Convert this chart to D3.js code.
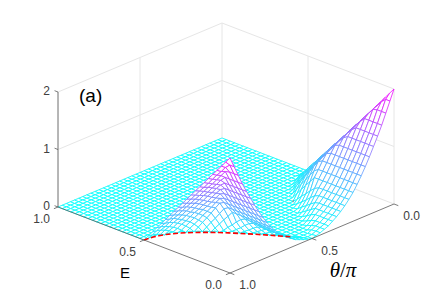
<!DOCTYPE html>
<html lang="en">
  <head>
    <meta charset="utf-8">
    <title>Surface (a)</title>
    <script src="https://d3js.org/d3.v7.js"></script>
    <style>
      html, body { margin: 0; padding: 0; background: #fff; }
      svg { display: block; }
    </style>
  </head>
  <body>
    <script>

  var w = 436;
  var h = 308;

  // mesh lines
  var thetaValues = [0,0.025,0.05,0.075,0.1,0.125,0.15,0.175,0.2,0.225,0.25,0.275,0.3,0.325,0.35,0.375,0.4,0.425,0.45,0.475,0.5,
    0.525,0.55,0.575,0.6,0.625,0.65,0.675,0.7,0.725,0.75,0.775,0.8,0.825,0.85,0.875,0.9,0.925,0.95,0.975,1];
  var eValues = [0,0.025,0.05,0.075,0.1,0.125,0.15,0.175,0.2,0.225,0.25,0.275,0.3,0.325,0.35,0.375,0.4,0.425,0.45,0.475,0.5,
    0.525,0.55,0.575,0.6,0.625,0.65,0.675,0.7,0.725,0.75,0.775,0.8,0.825,0.85,0.875,0.9,0.925,0.95,0.975,1];

  // surface height, one row per E from 0.0 to 0.475, one column per theta
  var zRows = [
    [2,1.82,1.64,1.46,1.3,1.15,1,.86,.73,.61,.5,.41,.33,.26,.2,.15,.1,.07,.04,.02,0,.02,.04,.07,.1,.15,.2,.26,.33,.41,.5,.61,.73,.86,1,1.15,1.3,1.46,1.64,1.82,2],
    [1.9,1.82,1.64,1.46,1.3,1.15,1,.86,.73,.61,.5,.41,.33,.26,.2,.15,.1,.07,.04,.01,0,.01,.04,.07,.1,.15,.2,.26,.33,.41,.5,.61,.73,.86,1,1.15,1.3,1.46,1.64,1.82,1.9],
    [1.8,1.75,1.64,1.46,1.3,1.15,1,.86,.73,.61,.5,.41,.33,.26,.2,.15,.1,.07,.03,0,0,0,.03,.07,.1,.15,.2,.26,.33,.41,.5,.61,.73,.86,1,1.15,1.3,1.46,1.64,1.75,1.8],
    [1.7,1.65,1.62,1.46,1.3,1.15,1,.86,.73,.61,.5,.41,.33,.26,.2,.15,.1,.05,0,0,0,0,0,.05,.1,.15,.2,.26,.33,.41,.5,.61,.73,.86,1,1.15,1.3,1.46,1.62,1.65,1.7],
    [1.6,1.56,1.52,1.46,1.3,1.15,1,.86,.73,.61,.5,.41,.33,.26,.2,.15,.08,.02,0,0,0,0,0,.02,.08,.15,.2,.26,.33,.41,.5,.61,.73,.86,1,1.15,1.3,1.46,1.52,1.56,1.6],
    [1.5,1.46,1.42,1.38,1.3,1.15,1,.86,.73,.61,.5,.41,.33,.26,.2,.12,.04,0,0,0,0,0,0,0,.04,.12,.2,.26,.33,.41,.5,.61,.73,.86,1,1.15,1.3,1.38,1.42,1.46,1.5],
    [1.4,1.36,1.32,1.28,1.24,1.15,1,.86,.73,.61,.5,.41,.33,.24,.15,.07,.01,0,0,0,0,0,0,0,.01,.07,.15,.24,.33,.41,.5,.61,.73,.86,1,1.15,1.24,1.28,1.32,1.36,1.4],
    [1.3,1.26,1.23,1.19,1.15,1.1,1,.86,.73,.61,.5,.41,.3,.19,.1,.03,0,0,0,0,0,0,0,0,0,.03,.1,.19,.3,.41,.5,.61,.73,.86,1,1.1,1.15,1.19,1.23,1.26,1.3],
    [1.2,1.17,1.13,1.09,1.05,1.01,.97,.86,.73,.61,.5,.37,.24,.13,.05,0,0,0,0,0,0,0,0,0,0,0,.05,.13,.24,.37,.5,.61,.73,.86,.97,1.01,1.05,1.09,1.13,1.17,1.2],
    [1.1,1.07,1.03,1,.96,.91,.87,.83,.73,.61,.5,.3,.17,.08,0,0,0,0,0,0,0,0,0,0,0,0,0,.08,.17,.3,.5,.61,.73,.83,.87,.91,.96,1,1.03,1.07,1.1],
    [1,.97,.94,.9,.86,.81,.77,.73,.69,.56,.4,.22,.11,.02,0,0,0,0,0,0,0,0,0,0,0,0,0,.02,.11,.22,.4,.56,.69,.73,.77,.81,.86,.9,.94,.97,1],
    [.9,.87,.84,.81,.77,.72,.67,.62,.58,.45,.31,.15,.05,0,0,0,0,0,0,0,0,0,0,0,0,0,0,0,.05,.15,.31,.45,.58,.62,.67,.72,.77,.81,.84,.87,.9],
    [.8,.77,.75,.71,.67,.62,.58,.52,.46,.34,.21,.07,0,0,0,0,0,0,0,0,0,0,0,0,0,0,0,0,0,.07,.21,.34,.46,.52,.58,.62,.67,.71,.75,.77,.8],
    [.7,.68,.65,.62,.57,.53,.48,.42,.35,.24,.11,0,0,0,0,0,0,0,0,0,0,0,0,0,0,0,0,0,0,0,.11,.24,.35,.42,.48,.53,.57,.62,.65,.68,.7],
    [.6,.58,.55,.52,.48,.43,.38,.31,.24,.13,.01,0,0,0,0,0,0,0,0,0,0,0,0,0,0,0,0,0,0,0,.01,.13,.24,.31,.38,.43,.48,.52,.55,.58,.6],
    [.5,.48,.46,.42,.38,.33,.28,.21,.13,.02,0,0,0,0,0,0,0,0,0,0,0,0,0,0,0,0,0,0,0,0,0,.02,.13,.21,.28,.33,.38,.42,.46,.48,.5],
    [.4,.38,.36,.33,.29,.24,.18,.11,.02,0,0,0,0,0,0,0,0,0,0,0,0,0,0,0,0,0,0,0,0,0,0,0,.02,.11,.18,.24,.29,.33,.36,.38,.4],
    [.3,.29,.26,.23,.19,.14,.08,.01,0,0,0,0,0,0,0,0,0,0,0,0,0,0,0,0,0,0,0,0,0,0,0,0,0,.01,.08,.14,.19,.23,.26,.29,.3],
    [.2,.19,.17,.14,.1,.05,0,0,0,0,0,0,0,0,0,0,0,0,0,0,0,0,0,0,0,0,0,0,0,0,0,0,0,0,0,.05,.1,.14,.17,.19,.2],
    [.1,.09,.07,.04,0,0,0,0,0,0,0,0,0,0,0,0,0,0,0,0,0,0,0,0,0,0,0,0,0,0,0,0,0,0,0,0,0,.04,.07,.09,.1]
  ];
  // every row from E = 0.5 up is flat
  var zFlatRow = [0,0,0,0,0,0,0,0,0,0,0,0,0,0,0,0,0,0,0,0,0,0,0,0,0,0,0,0,0,0,0,0,0,0,0,0,0,0,0,0,0];

  // red dashed zero line
  var redTheta = [0.55,0.575,0.6,0.625,0.65,0.675,0.7,0.725,0.75,0.775,0.8,0.825,0.85,0.875,0.9,0.925,0.95,0.975,1];
  var redE = [0.078,0.117,0.155,0.191,0.227,0.261,0.294,0.325,0.354,0.38,0.405,0.426,0.446,0.462,0.476,0.486,0.494,0.498,0.5];
  var redBackTheta = [0.265,0.28];
  var redBackE = [0.335,0.319];

  var zTicks = [0, 1, 2];
  var zTickLabels = ["0", "1", "2"];
  var eTicks = [1, 0.5, 0];
  var eTickLabels = ["1.0", "0.5", "0.0"];
  var thetaTicks = [0, 0.5, 1];
  var thetaTickLabels = ["0.0", "0.5", "1.0"];

  // oblique projection: each data axis moves the pixel along its own direction
  var origin = [394, 204];
  var thetaX = d3.scaleLinear().domain([0, 1]).range([0, -164]);
  var thetaY = d3.scaleLinear().domain([0, 1]).range([0, 69]);
  var eX = d3.scaleLinear().domain([0, 1]).range([0, -172]);
  var eY = d3.scaleLinear().domain([0, 1]).range([0, -66]);
  var zY = d3.scaleLinear().domain([0, 2]).range([0, -115]);

  var colors = d3.scaleLinear()
    .domain([0, 2])
    .range(["#00ffff", "#ff00ff"]);

  function project(t, e, z) {
    return [origin[0] + thetaX(t) + eX(e), origin[1] + thetaY(t) + eY(e) + zY(z)];
  }

  function zAt(i, j) {
    return j < zRows.length ? zRows[j][i] : zFlatRow[i];
  }

  var svg = d3.select("body")
    .append("svg")
    .attr("width", w)
    .attr("height", h);

  var line = d3.line();

  // walls
  var wallLines = [];
  zTicks.forEach(function (z) {
    wallLines.push([project(1, 1, z), project(0, 1, z), project(0, 0, z)]);
  });
  [0.5, 0].forEach(function (t) {
    wallLines.push([project(t, 1, 0), project(t, 1, 2)]);
  });
  [0.5, 0].forEach(function (e) {
    wallLines.push([project(0, e, 0), project(0, e, 2)]);
  });
  wallLines.push([project(1, 1, 0), project(1, 1, 2)]);

  svg.append("g")
    .selectAll("path")
    .data(wallLines)
    .enter()
    .append("path")
    .attr("d", line)
    .attr("fill", "none")
    .attr("stroke", "#e6e6e6")
    .attr("stroke-width", 1);

  // quads far to near so the white faces hide what is behind them
  var quads = [];
  for (var a = 0; a < thetaValues.length - 1; a++) {
    for (var b = eValues.length - 2; b >= 0; b--) {
      quads.push({
        pts: [
          project(thetaValues[a], eValues[b], zAt(a, b)),
          project(thetaValues[a + 1], eValues[b], zAt(a + 1, b)),
          project(thetaValues[a + 1], eValues[b + 1], zAt(a + 1, b + 1)),
          project(thetaValues[a], eValues[b + 1], zAt(a, b + 1))
        ],
        z: (zAt(a, b) + zAt(a + 1, b) + zAt(a + 1, b + 1) + zAt(a, b + 1)) / 4
      });
    }
  }

  svg.append("g")
    .selectAll("path")
    .data(quads)
    .enter()
    .append("path")
    .attr("d", d => line(d.pts) + "Z")
    .attr("fill", "#fff")
    .attr("stroke", d => colors(d.z))
    .attr("stroke-width", 0.8);

  // zero line
  svg.append("path")
    .attr("d", line(redTheta.map((t, i) => project(t, redE[i], 0))))
    .attr("fill", "none")
    .attr("stroke", "#f00")
    .attr("stroke-width", 1.6)
    .attr("stroke-dasharray", "5,2.5");

  svg.append("path")
    .attr("d", line(redBackTheta.map((t, i) => project(t, redBackE[i], 0))))
    .attr("fill", "none")
    .attr("stroke", "#f00")
    .attr("stroke-opacity", 0.5)
    .attr("stroke-width", 1);

  // axes
  var axisColor = "#5a5a5a";
  var axisLines = [
    [project(1, 1, 0), project(1, 1, 2)],
    [project(1, 1, 0), project(1, 0, 0)],
    [project(1, 0, 0), project(0, 0, 0)]
  ];
  zTicks.forEach(function (z) {
    axisLines.push([project(1, 1, z), project(1, 1.02, z)]);
  });
  eTicks.forEach(function (e) {
    axisLines.push([project(1, e, 0), project(1.025, e, 0)]);
  });
  thetaTicks.forEach(function (t) {
    axisLines.push([project(t, 0, 0), project(t, -0.025, 0)]);
  });

  svg.append("g")
    .selectAll("path")
    .data(axisLines)
    .enter()
    .append("path")
    .attr("d", line)
    .attr("fill", "none")
    .attr("stroke", axisColor)
    .attr("stroke-width", 0.8);

  // tick labels
  var labelFont = "'Liberation Sans', Arial, sans-serif";
  var textColor = "#404040";

  function tickLabels(values, labels, pos) {
    svg.append("g")
      .selectAll("text")
      .data(values)
      .enter()
      .append("text")
      .attr("x", d => pos(d)[0])
      .attr("y", d => pos(d)[1])
      .attr("text-anchor", "end")
      .attr("font-family", labelFont)
      .attr("font-size", 12)
      .attr("fill", textColor)
      .text((d, i) => labels[i]);
  }

  tickLabels(zTicks, zTickLabels, d => { var p = project(1, 1, d); return [p[0] - 8, p[1] + 3]; });
  tickLabels(eTicks, eTickLabels, d => { var p = project(1, d, 0); return [p[0] - 8, p[1] + 16]; });
  tickLabels(thetaTicks, thetaTickLabels, d => { var p = project(d, 0, 0); return [p[0] + 26, p[1] + 16]; });

  // axis names
  svg.append("text")
    .attr("x", 125)
    .attr("y", 278)
    .attr("text-anchor", "middle")
    .attr("font-family", labelFont)
    .attr("font-size", 15)
    .attr("fill", "#000")
    .text("E");

  var thetaLabel = svg.append("text")
    .attr("x", 343)
    .attr("y", 277)
    .attr("text-anchor", "middle")
    .attr("font-family", "'Liberation Serif', serif")
    .attr("font-size", 21)
    .attr("fill", "#000");
  thetaLabel.append("tspan").attr("font-style", "italic").text("θ");
  thetaLabel.append("tspan").text("/");
  thetaLabel.append("tspan").attr("font-style", "italic").text("π");

  svg.append("text")
    .attr("x", 79)
    .attr("y", 102)
    .attr("font-family", labelFont)
    .attr("font-size", 19)
    .attr("fill", "#000")
    .text("(a)");

    </script>
  </body>
</html>
